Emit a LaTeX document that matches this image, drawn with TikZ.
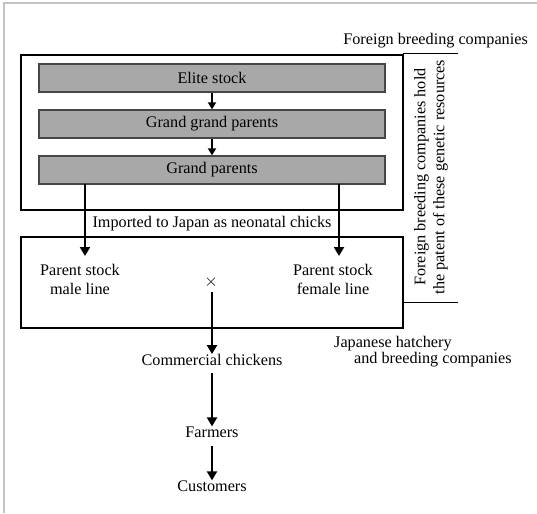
\documentclass[tikz,border=0pt]{standalone}
\usepackage{fontspec}
\setmainfont{Liberation Serif}
\usetikzlibrary{arrows.meta}
\definecolor{boxgray}{RGB}{168,168,168}
\definecolor{edgegray}{RGB}{70,70,70}
\definecolor{framegray}{RGB}{195,195,195}
\begin{document}
\begin{tikzpicture}[x=1pt,y=-1pt,
  every node/.style={font=\fontsize{16.2pt}{19pt}\selectfont, inner sep=0pt},
  graybox/.style={draw=edgegray, line width=1.2pt, fill=boxgray, minimum width=346pt, minimum height=28pt},
  region/.style={draw=black, line width=1.8pt},
  flow/.style={line width=2pt, -{Triangle[width=10pt,length=9pt]}},
  sflow/.style={line width=1.8pt, -{Triangle[width=8pt,length=7pt]}},
  sep/.style={line width=1pt}]
\useasboundingbox (0,0) rectangle (537,513);
% faint frame
\draw[framegray, line width=1.5pt] (4,513) -- (4,3) -- (537,3);
% region boxes
\draw[region] (21,55) rectangle (403,210);
\draw[region] (21,237) rectangle (403,328);
% side separators
\coordinate (s1a) at (403,54);
\coordinate (s1b) at (458,54);
\coordinate (s2a) at (403,302);
\coordinate (s2b) at (458,302);
\draw[sep] (s1a) -- (s1b);
\draw[sep] (s2a) -- (s2b);
% labels
\node[anchor=east] (foreign) at (528,41) {Foreign breeding companies};
\node[rotate=90, align=center] (patent) at (431,177)
  {Foreign breeding companies hold\\the patent of these genetic resources};
\node[anchor=north west, align=left, font=\fontsize{16.2pt}{16.5pt}\selectfont] (japan) at (334,336)
  {Japanese hatchery\\\hspace*{20pt}and breeding companies};
% gray boxes
\node[graybox] (elite) at (212,78) {Elite stock};
\node[graybox] (ggp) at (212,124) {Grand grand parents};
\node[graybox] (gp) at (212,170) {Grand parents};
\draw[sflow] (elite) -- (ggp);
\draw[sflow] (ggp) -- (gp);
% imported
\node (imported) at (212,224) {Imported to Japan as neonatal chicks};
\node[align=center] (male) at (80,279) {Parent stock\\male line};
\node[align=center] (female) at (333,279) {Parent stock\\female line};
\coordinate (gpl) at (85,183.5);
\coordinate (gpr) at (339,183.5);
\coordinate (malet) at (85,256);
\coordinate (femalet) at (339,256);
\draw[flow] (gpl) -- (malet);
\draw[flow] (gpr) -- (femalet);
\node (cross) at (211,282) {$\times$};
\node (commercial) at (212,360) {Commercial chickens};
\node (farmers) at (212,432) {Farmers};
\node (customers) at (212,486) {Customers};
\draw[flow] (212,292) -- (commercial.north);
\draw[flow] (212,373) -- (farmers.north);
\draw[flow] (212,446) -- (customers.north);
\end{tikzpicture}
\end{document}
